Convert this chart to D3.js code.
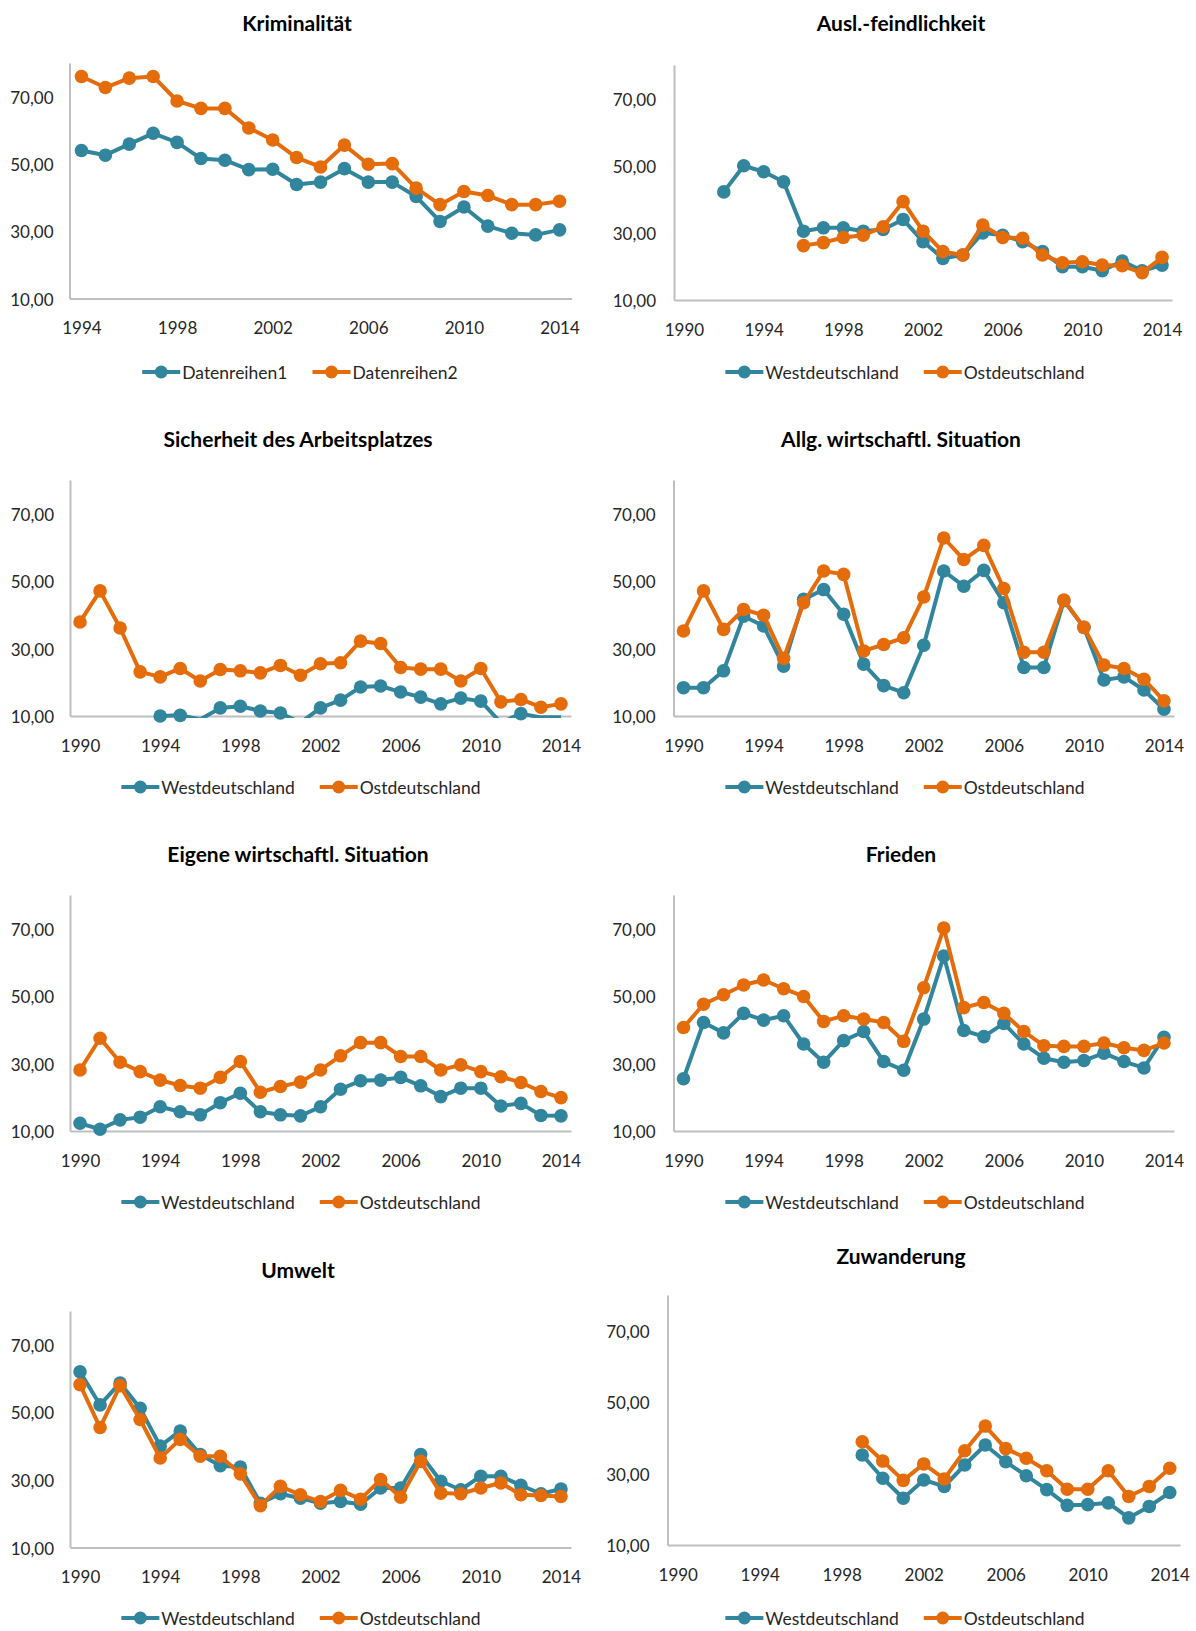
<!DOCTYPE html>
<html>
<head>
<meta charset="utf-8">
<script src="https://cdn.jsdelivr.net/npm/d3@7"></script>
<style>
  html, body { margin: 0; padding: 0; background: #ffffff; }
  svg { display: block; }
  text { font-family: Lato, "Open Sans", sans-serif; }
</style>
</head>
<body>
<svg id="chart" width="1196" height="1631"></svg>
<script>
// ---------- categories & ticks ----------
const yearsFull = [1990,1991,1992,1993,1994,1995,1996,1997,1998,1999,2000,2001,2002,
                   2003,2004,2005,2006,2007,2008,2009,2010,2011,2012,2013,2014];
const yearsKrim = [1994,1995,1996,1997,1998,1999,2000,2001,2002,2003,2004,2005,2006,
                   2007,2008,2009,2010,2011,2012,2013,2014];
const xTicksFull = [1990,1994,1998,2002,2006,2010,2014];
const xTicksKrim = [1994,1998,2002,2006,2010,2014];
const yTicks = [10,30,50,70];
const seriesNamesKrim = ["Datenreihen1","Datenreihen2"];
const seriesNames = ["Westdeutschland","Ostdeutschland"];
const titles = ["Kriminalität","Ausl.-feindlichkeit","Sicherheit des Arbeitsplatzes",
                "Allg. wirtschaftl. Situation","Eigene wirtschaftl. Situation","Frieden",
                "Umwelt","Zuwanderung"];

// ---------- series values ----------
// Kriminalität (1994-2014)
const krimWest = [54.0,52.6,55.9,59.1,56.4,51.6,51.1,48.3,48.4,43.9,44.6,48.6,44.6,44.6,40.3,32.9,37.2,31.5,29.4,28.9,30.4];
const krimOst  = [76.0,72.7,75.5,76.0,68.7,66.5,66.5,60.7,57.1,51.9,49.1,55.6,49.9,50.1,42.8,37.9,41.8,40.6,37.9,37.9,38.9];
// Ausl.-feindlichkeit (1990-2014)
const auslWest = [null,null,42.2,50.0,48.2,45.2,30.5,31.5,31.5,30.5,31.0,34.0,27.4,22.4,23.4,30.0,29.3,27.4,24.4,19.9,19.9,18.7,21.6,18.7,20.4];
const auslOst  = [null,null,null,null,null,null,26.2,27.1,28.6,29.3,31.8,39.3,30.5,24.4,23.4,32.3,28.6,28.4,23.4,21.1,21.4,20.4,20.2,18.1,22.7];
// Sicherheit des Arbeitsplatzes (values below 10 fall outside the axis)
const arbWest  = [null,null,null,null,10.0,10.2,9.0,12.4,12.9,11.5,10.9,8.0,12.4,14.7,18.6,18.9,17.1,15.6,13.6,15.3,14.4,8.0,10.7,9.6,9.6];
const arbOst   = [37.9,47.1,36.1,23.1,21.6,24.1,20.4,23.8,23.4,22.8,25.0,22.1,25.5,25.8,32.2,31.5,24.4,23.9,23.9,20.4,24.1,14.2,14.9,12.6,13.6];
// Allg. wirtschaftl. Situation
const allgWest = [18.4,18.4,23.4,39.6,36.7,24.8,44.6,47.5,40.2,25.4,19.0,16.9,31.0,53.0,48.5,53.2,43.6,24.4,24.4,44.2,36.3,20.7,21.6,17.7,12.0];
const allgOst  = [35.2,47.1,35.7,41.6,39.9,27.1,43.6,53.0,52.0,29.3,31.2,33.2,45.3,62.8,56.4,60.6,47.8,28.9,28.9,44.4,36.3,25.1,24.1,20.9,14.5];
// Eigene wirtschaftl. Situation
const eigWest  = [12.3,10.5,13.3,14.1,17.2,15.7,14.8,18.4,21.2,15.7,14.8,14.5,17.2,22.4,24.9,25.1,25.9,23.4,20.2,22.7,22.7,17.4,18.2,14.6,14.5];
const eigOst   = [28.1,37.5,30.4,27.6,25.1,23.5,22.7,25.9,30.6,21.5,23.2,24.5,28.1,32.3,36.2,36.2,32.1,32.1,28.1,29.6,27.6,26.1,24.4,21.7,19.9];
// Frieden
const friWest  = [25.5,42.2,39.1,44.9,42.9,44.2,35.8,30.4,36.8,39.5,30.6,28.0,43.2,61.9,39.8,38.0,41.9,35.8,31.6,30.4,30.9,33.1,30.6,28.7,37.8];
const friOst   = [40.7,47.6,50.4,53.3,54.8,52.2,49.9,42.5,44.2,43.2,42.2,36.6,52.5,70.2,46.6,48.1,44.9,39.5,35.3,35.1,35.1,36.1,34.7,33.9,36.1];
// Umwelt
const umwWest  = [62.0,52.2,58.7,51.2,40.0,44.5,37.5,34.2,33.8,23.1,25.9,24.6,23.1,23.6,22.8,27.6,27.6,37.5,29.6,27.1,31.1,31.1,28.4,25.9,27.3];
const umwOst   = [58.2,45.5,57.9,47.9,36.5,42.0,37.0,37.0,31.8,22.4,28.1,25.6,23.6,26.9,24.3,30.1,24.9,35.5,26.1,25.9,27.6,29.1,25.6,25.4,25.1];
// Zuwanderung
const zuwWest  = [null,null,null,null,null,null,null,null,null,35.2,28.7,23.1,28.2,26.4,32.4,38.0,33.3,29.4,25.5,21.1,21.3,21.8,17.6,20.8,24.7];
const zuwOst   = [null,null,null,null,null,null,null,null,null,38.9,33.5,28.1,32.7,28.5,36.4,43.3,37.0,34.3,30.8,25.6,25.6,30.8,23.6,26.4,31.5];

// ---------- layout (positions / sizes only) ----------
const COLORS = ["#31859C", "#E46C0A"];
const layout = [
  {x0: 69.5,  x1: 571.5, top: 63,   bottom: 298.5, titleY: 22,   legendY: 372,  tcx: 297, lcx: 300, pad: 16},
  {x0: 674,   x1: 1172,  top: 65,   bottom: 300,   titleY: 22,   legendY: 372,  tcx: 901, lcx: 905, pad: 18},
  {x0: 70,    x1: 571,   top: 480,  bottom: 716,   titleY: 438,  legendY: 787,  tcx: 298, lcx: 301, pad: 16},
  {x0: 673.5, x1: 1174,  top: 480,  bottom: 716,   titleY: 438,  legendY: 787,  tcx: 901, lcx: 905, pad: 18},
  {x0: 70,    x1: 571,   top: 895,  bottom: 1131,  titleY: 853,  legendY: 1202, tcx: 298, lcx: 301, pad: 16},
  {x0: 673.5, x1: 1174,  top: 895,  bottom: 1131,  titleY: 853,  legendY: 1202, tcx: 901, lcx: 905, pad: 18},
  {x0: 70,    x1: 571,   top: 1311, bottom: 1547.5,titleY: 1269, legendY: 1618, tcx: 298, lcx: 301, pad: 16},
  {x0: 667.5, x1: 1180,  top: 1295, bottom: 1545,  titleY: 1255, legendY: 1618, tcx: 901, lcx: 905, pad: 18}
];

const panels = [
  {years: yearsKrim, xTicks: xTicksKrim, series: [krimWest, krimOst], names: seriesNamesKrim},
  {years: yearsFull, xTicks: xTicksFull, series: [auslWest, auslOst], names: seriesNames},
  {years: yearsFull, xTicks: xTicksFull, series: [arbWest,  arbOst],  names: seriesNames},
  {years: yearsFull, xTicks: xTicksFull, series: [allgWest, allgOst], names: seriesNames},
  {years: yearsFull, xTicks: xTicksFull, series: [eigWest,  eigOst],  names: seriesNames},
  {years: yearsFull, xTicks: xTicksFull, series: [friWest,  friOst],  names: seriesNames},
  {years: yearsFull, xTicks: xTicksFull, series: [umwWest,  umwOst],  names: seriesNames},
  {years: yearsFull, xTicks: xTicksFull, series: [zuwWest,  zuwOst],  names: seriesNames}
];

const svg = d3.select("#chart");
svg.append("rect").attr("width", 1196).attr("height", 1631).attr("fill", "#fff");
const defs = svg.append("defs");
const fmt = d => d.toFixed(2).replace(".", ",");
const AXIS = "#BFBFBF", TXT = "#262626";
const LW = 4, R = 6.8;

panels.forEach((p, i) => {
  const L = layout[i];
  const g = svg.append("g");
  const x = d3.scalePoint().domain(p.years).range([L.x0, L.x1]).padding(0.5);
  const y = d3.scaleLinear().domain([10, 80]).range([L.bottom, L.top]);

  // title
  g.append("text").attr("x", L.tcx).attr("y", L.titleY)
    .attr("text-anchor", "middle").attr("dominant-baseline", "central")
    .attr("font-size", 21).attr("font-weight", "bold").attr("fill", "#000")
    .text(titles[i]);

  // y axis
  const ya = g.append("g").attr("transform", `translate(${L.x0},0)`)
    .call(d3.axisLeft(y).tickValues(yTicks).tickSize(0).tickSizeOuter(0).tickPadding(L.pad).tickFormat(fmt));
  ya.select(".domain").attr("stroke", AXIS).attr("stroke-width", 2);
  ya.selectAll("text").attr("font-size", 17).attr("fill", TXT).attr("font-family", "Lato, sans-serif")
    .attr("dy", null).attr("dominant-baseline", "central");

  // x axis
  const xa = g.append("g").attr("transform", `translate(0,${L.bottom})`)
    .call(d3.axisBottom(x).tickValues(p.xTicks).tickSize(0).tickSizeOuter(0));
  xa.select(".domain").attr("stroke", AXIS).attr("stroke-width", 2);
  xa.selectAll("text").attr("font-size", 17).attr("fill", TXT).attr("font-family", "Lato, sans-serif")
    .attr("dy", null).attr("y", 29).attr("dominant-baseline", "central");

  // clip for lines (values outside the axis range are cut off at the plot edge)
  const cid = "clip" + i;
  defs.append("clipPath").attr("id", cid).append("rect")
    .attr("x", L.x0).attr("y", L.top - 2).attr("width", L.x1 - L.x0).attr("height", L.bottom - L.top + 4);

  p.series.forEach((vals, s) => {
    const pts = p.years.map((yr, k) => ({yr, v: vals[k]}));
    const line = d3.line().defined(d => d.v != null).x(d => x(d.yr)).y(d => y(d.v));
    g.append("path").datum(pts).attr("d", line)
      .attr("fill", "none").attr("stroke", COLORS[s]).attr("stroke-width", LW)
      .attr("stroke-linejoin", "round").attr("clip-path", `url(#${cid})`);
    g.selectAll(null).data(pts.filter(d => d.v != null && d.v >= 9.95)).enter()
      .append("circle").attr("cx", d => x(d.yr)).attr("cy", d => y(d.v))
      .attr("r", R).attr("fill", COLORS[s]);
  });

  // legend
  const lg = g.append("g");
  const items = p.names.map((n, s) => {
    const it = lg.append("g");
    it.append("line").attr("x1", 0).attr("x2", 38).attr("y1", 0).attr("y2", 0)
      .attr("stroke", COLORS[s]).attr("stroke-width", LW);
    it.append("circle").attr("cx", 19).attr("cy", 0).attr("r", 6.5).attr("fill", COLORS[s]);
    const t = it.append("text").attr("x", 40).attr("y", 0).attr("dominant-baseline", "central")
      .attr("font-size", 17.5).attr("fill", TXT).text(n);
    return {it, w: 40 + t.node().getComputedTextLength()};
  });
  const gap = 25;
  const total = items.reduce((a, b) => a + b.w, 0) + gap * (items.length - 1);
  let cur = L.lcx - total / 2;
  items.forEach(o => { o.it.attr("transform", `translate(${cur},${L.legendY})`); cur += o.w + gap; });
});
</script>
</body>
</html>
